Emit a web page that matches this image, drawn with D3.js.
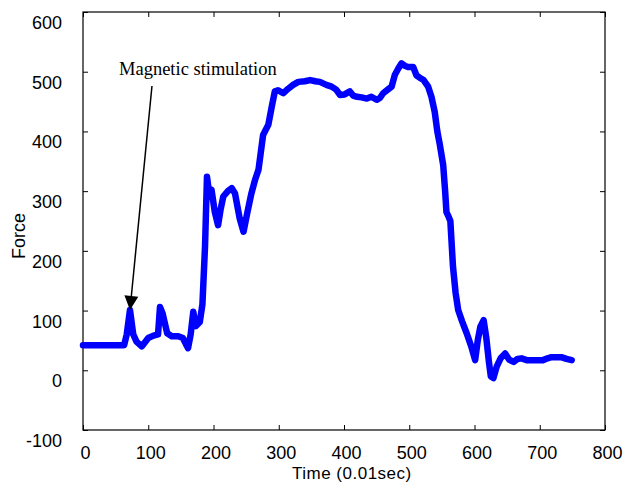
<!DOCTYPE html>
<html>
<head>
<meta charset="utf-8">
<script src="https://cdn.jsdelivr.net/npm/d3@7"></script>
<style>
  html, body { margin: 0; padding: 0; background: #fff; }
  svg { display: block; }
</style>
</head>
<body>
<svg id="chart" width="624" height="482"></svg>
<script>
// ---- data ----
const time = [0, 63, 67, 72, 77, 82, 90, 100, 108, 115, 118, 122, 129, 136, 146, 153, 161, 165, 169, 173, 179, 183, 187, 190, 193, 197, 202, 207, 211, 215, 222, 228, 233, 240, 246, 252, 258, 264, 269, 276, 284, 289, 294, 299, 307, 315, 322, 330, 340, 348, 356, 363, 373, 381, 388, 394, 401, 409, 414, 420, 427, 435, 442, 450, 455, 460, 467, 473, 478, 483, 488, 493, 498, 506, 511, 516, 522, 529, 534, 539, 543, 547, 552, 555, 557, 560, 563, 567, 571, 575, 581, 588, 595, 601, 605, 609, 614, 618, 622, 625, 629, 634, 640, 647, 653, 660, 666, 672, 680, 688, 697, 705, 712, 718, 726, 733, 741, 749];
const force = [42, 42, 60, 101, 60, 48, 40, 54, 58, 60, 106, 95, 62, 57, 57, 54, 37, 60, 98, 74, 81, 110, 207, 324, 300, 302, 265, 243, 270, 291, 300, 305, 296, 255, 232, 265, 296, 320, 336, 394, 411, 440, 467, 469, 464, 472, 478, 483, 484, 486, 484, 483, 478, 475, 470, 461, 462, 467, 460, 458, 457, 455, 458, 453, 456, 464, 470, 475, 495, 505, 514, 510, 508, 508, 494, 490, 486, 475, 458, 433, 400, 377, 344, 300, 265, 258, 250, 174, 130, 101, 82, 62, 40, 17, 50, 73, 84, 55, 15, -10, -13, 6, 20, 28, 18, 14, 19, 20, 17, 17, 17, 17, 20, 22, 22, 22, 19, 17];
const xTicks = [0, 100, 200, 300, 400, 500, 600, 700, 800];
const yTicks = [-100, 0, 100, 200, 300, 400, 500, 600];
const xDomain = [0, 800];
const yDomain = [-100, 600];
const xTitle = "Time (0.01sec)";
const yTitle = "Force";
const noteText = "Magnetic stimulation";
const noteStart = [105.7, 476];   // [time, force] of arrow tail
const noteTip = [72, 101];        // [time, force] of arrow tip

// ---- layout ----
const svg = d3.select("#chart");
const L = 83, R = 605, T = 12, B = 430;
const x = d3.scaleLinear().domain(xDomain).range([L, R]);
const y = d3.scaleLinear().domain(yDomain).range([B, T]);

const sans = "Liberation Sans, Arial, sans-serif";
const serif = "Liberation Serif, Times New Roman, serif";
const fmt = d => String(d);

// frame
svg.append("rect").attr("x", L).attr("y", T).attr("width", R - L).attr("height", B - T)
  .attr("fill", "none").attr("stroke", "#000").attr("stroke-width", 1.2);

// axes (ticks inward)
const gBottom = svg.append("g").attr("transform", `translate(0,${B})`)
  .call(d3.axisBottom(x).tickValues(xTicks).tickSize(-5).tickPadding(0).tickFormat(fmt));
const gTop = svg.append("g").attr("transform", `translate(0,${T})`)
  .call(d3.axisTop(x).tickValues(xTicks).tickSize(-5).tickFormat(""));
const gLeft = svg.append("g").attr("transform", `translate(${L},0)`)
  .call(d3.axisLeft(y).tickValues(yTicks).tickSize(-5).tickPadding(0).tickFormat(fmt));
const gRight = svg.append("g").attr("transform", `translate(${R},0)`)
  .call(d3.axisRight(y).tickValues(yTicks).tickSize(-5).tickFormat(""));

[gBottom, gTop, gLeft, gRight].forEach(g => {
  g.select(".domain").remove();
  g.selectAll(".tick line").attr("stroke", "#000").attr("stroke-width", 1);
});

gBottom.selectAll(".tick text")
  .attr("font-family", sans).attr("font-size", 18).attr("fill", "#000")
  .attr("dy", null).attr("y", 28.5).attr("x", 2);
gLeft.selectAll(".tick text")
  .attr("font-family", sans).attr("font-size", 18).attr("fill", "#000")
  .attr("dy", null).attr("y", 16.5).attr("x", -21);

// axis titles
svg.append("text").attr("x", 292).attr("y", 479)
  .attr("font-family", sans).attr("font-size", 17).attr("letter-spacing", 0.5).attr("fill", "#000")
  .text(xTitle);
svg.append("text").attr("transform", "translate(25,236) rotate(-90)")
  .attr("text-anchor", "middle")
  .attr("font-family", sans).attr("font-size", 18).attr("fill", "#000")
  .text(yTitle);

// data line
const line = d3.line().x((d, i) => x(time[i])).y((d, i) => y(force[i]));
svg.append("path").datum(force)
  .attr("d", line)
  .attr("fill", "none").attr("stroke", "#0000ff").attr("stroke-width", 6.5)
  .attr("stroke-linejoin", "round").attr("stroke-linecap", "round");

// annotation
svg.append("text").attr("x", 119).attr("y", 75)
  .attr("font-family", serif).attr("font-size", 18.5).attr("fill", "#000")
  .text(noteText);

const x0 = x(noteStart[0]), y0 = y(noteStart[1]);
const x1 = x(noteTip[0]), y1 = y(noteTip[1]);
const ang = Math.atan2(y1 - y0, x1 - x0);
const headLen = 14, headHalf = 7;
const bx = x1 - headLen * Math.cos(ang), by = y1 - headLen * Math.sin(ang);
svg.append("line").attr("x1", x0).attr("y1", y0).attr("x2", bx).attr("y2", by)
  .attr("stroke", "#000").attr("stroke-width", 1.5);
const px = -Math.sin(ang), py = Math.cos(ang);
svg.append("path")
  .attr("d", `M${x1},${y1}L${bx + headHalf * px},${by + headHalf * py}L${bx - headHalf * px},${by - headHalf * py}Z`)
  .attr("fill", "#000");
</script>
</body>
</html>
